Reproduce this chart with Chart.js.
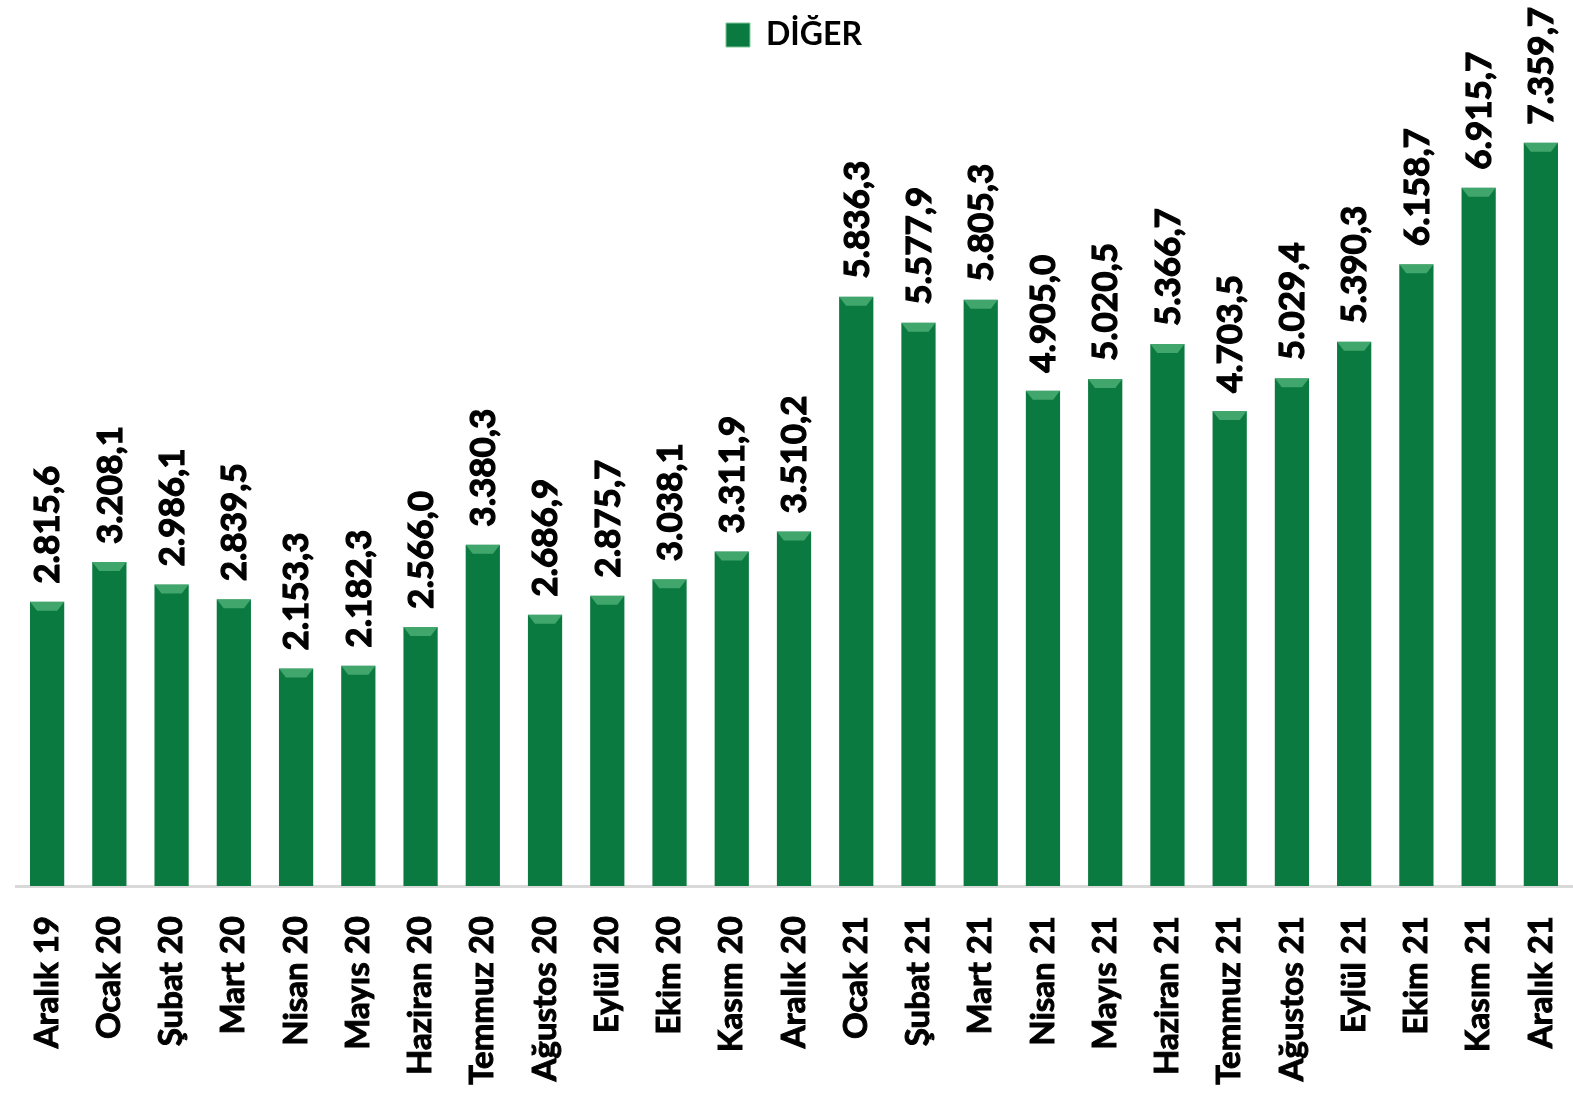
<!DOCTYPE html>
<html>
<head>
<meta charset="utf-8">
<script src="https://cdn.jsdelivr.net/npm/chart.js@4/dist/chart.umd.min.js"></script>
<style>
  html, body { margin: 0; padding: 0; background: #fff; }
  #wrap { width: 1573px; height: 1109px; }
</style>
</head>
<body>
<div id="wrap"><canvas id="c"></canvas></div>
<script>
// DİĞER - monthly values
const months = ['Aralık 19', 'Ocak 20', 'Şubat 20', 'Mart 20', 'Nisan 20', 'Mayıs 20', 'Haziran 20',
  'Temmuz 20', 'Ağustos 20', 'Eylül 20', 'Ekim 20', 'Kasım 20', 'Aralık 20', 'Ocak 21', 'Şubat 21',
  'Mart 21', 'Nisan 21', 'Mayıs 21', 'Haziran 21', 'Temmuz 21', 'Ağustos 21', 'Eylül 21', 'Ekim 21',
  'Kasım 21', 'Aralık 21'];
const diger = [2815.6, 3208.1, 2986.1, 2839.5, 2153.3, 2182.3, 2566.0, 3380.3, 2686.9, 2875.7, 3038.1,
  3311.9, 3510.2, 5836.3, 5577.9, 5805.3, 4905.0, 5020.5, 5366.7, 4703.5, 5029.4, 5390.3, 6158.7,
  6915.7, 7359.7];
const seriesName = 'DİĞER';

const FONT = 'Lato, "Open Sans", sans-serif';

// 2815.6 -> "2.815,6"
function fmt(v) {
  const [i, d] = v.toFixed(1).split('.');
  return i.replace(/\B(?=(\d{3})+(?!\d))/g, '.') + ',' + d;
}

function barFill(ctx) {
  const el = ctx.chart.getDatasetMeta(0).data[ctx.dataIndex];
  if (!el || !isFinite(el.x) || !el.width) return '#0a7a40';
  const g = ctx.chart.ctx.createLinearGradient(el.x - el.width / 2, 0, el.x + el.width / 2, 0);
  g.addColorStop(0, '#055a2c');
  g.addColorStop(0.12, '#0a7a40');
  g.addColorStop(0.88, '#0a7a40');
  g.addColorStop(1, '#055a2c');
  return g;
}

// top bevel highlight + rotated value labels
const barDecor = {
  id: 'barDecor',
  afterDatasetsDraw(chart) {
    const c = chart.ctx;
    const meta = chart.getDatasetMeta(0);
    meta.data.forEach((bar, i) => {
      const w = bar.width, x0 = bar.x - w / 2, x1 = bar.x + w / 2, y = bar.y;
      c.save();
      c.fillStyle = 'rgba(120,210,150,0.5)';
      c.beginPath();
      c.moveTo(x0, y);
      c.lineTo(x1, y);
      c.lineTo(x1 - 7, y + 9);
      c.lineTo(x0 + 7, y + 9);
      c.closePath();
      c.fill();
      c.restore();

      c.save();
      c.translate(bar.x, y - 18);
      c.rotate(-Math.PI / 2);
      c.font = 'bold 35px ' + FONT;
      c.fillStyle = '#000';
      c.strokeStyle = '#000';
      c.lineWidth = 1.2;
      c.textAlign = 'left';
      c.textBaseline = 'middle';
      c.fillText(fmt(diger[i]), 0, 1);
      c.strokeText(fmt(diger[i]), 0, 1);
      c.restore();
    });
  }
};

new Chart(document.getElementById('c'), {
  type: 'bar',
  data: {
    labels: months,
    datasets: [{
      label: seriesName,
      data: diger,
      backgroundColor: barFill,
      borderWidth: 0,
      categoryPercentage: 1,
      barPercentage: 0.55,
    }],
  },
  options: {
    responsive: true,
    maintainAspectRatio: false,
    animation: false,
    layout: { padding: { left: 16, right: 1, top: 8, bottom: 0 } },
    plugins: {
      legend: {
        display: true,
        labels: {
          color: '#000',
          font: { family: FONT, size: 32, weight: 'bold' },
          boxWidth: 24,
          boxHeight: 24,
          padding: 11,
          generateLabels: () => [{
            text: seriesName,
            fillStyle: '#0a7a40',
            strokeStyle: '#7fc99a',
            lineWidth: 1,
            datasetIndex: 0,
          }],
        },
      },
      // empty spacer between legend and plot area
      subtitle: {
        display: true,
        text: '',
        weight: 500,
        font: { size: 1 },
        padding: { top: 0, bottom: 16 },
      },
      tooltip: { enabled: false },
    },
    scales: {
      x: {
        grid: { display: false },
        border: { color: '#d9d9d9', width: 3 },
        afterFit: (s) => { s.height = 223; s.paddingLeft = 0; s.paddingRight = 0; },
        ticks: {
          color: '#000',
          font: { family: FONT, size: 33, weight: 'bold' },
          textStrokeColor: '#000',
          textStrokeWidth: 1,
          minRotation: 90,
          maxRotation: 90,
          autoSkip: false,
          padding: 22,
        },
      },
      y: {
        display: false,
        min: 0,
        max: 8000,
      },
    },
  },
  plugins: [barDecor],
});
</script>
</body>
</html>
